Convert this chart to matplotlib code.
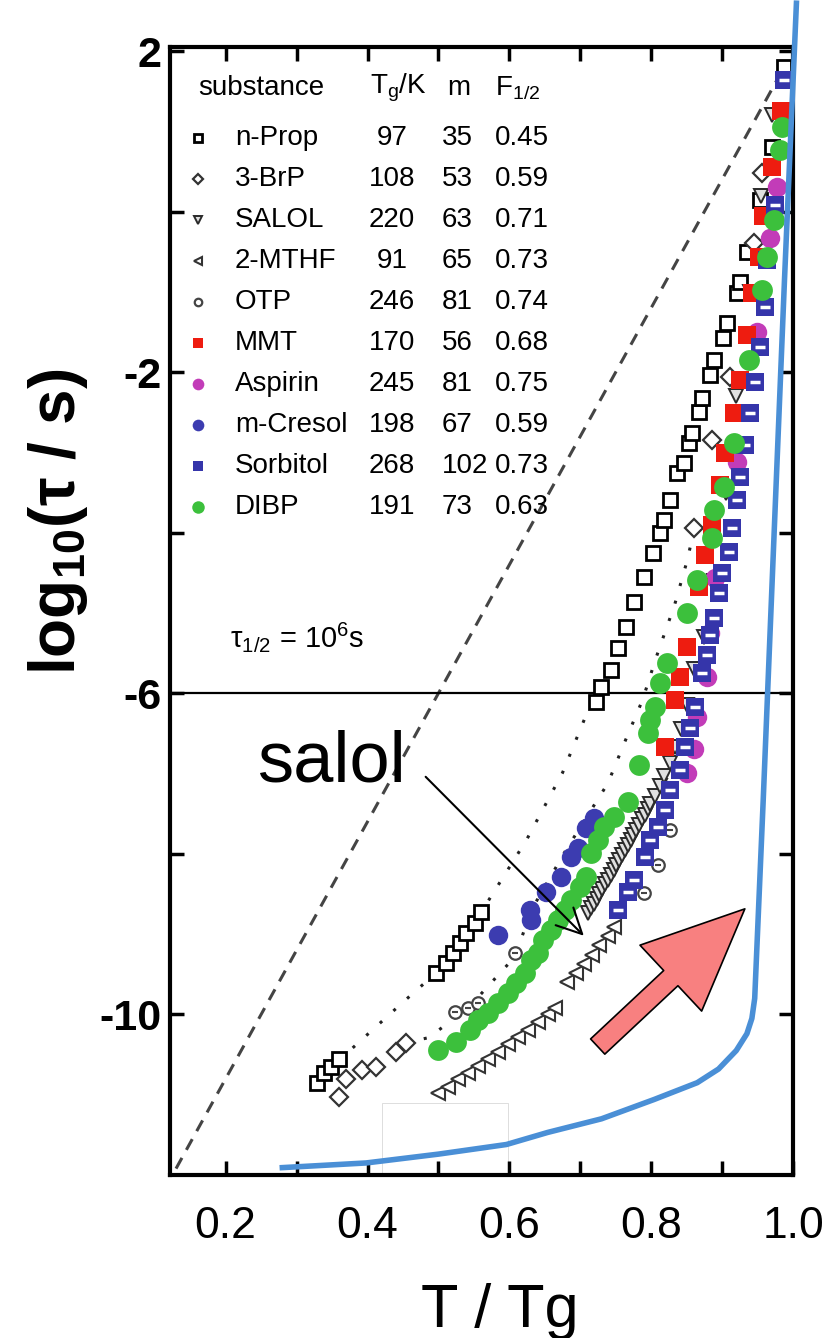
import matplotlib
matplotlib.use('Agg')
import matplotlib.pyplot as plt
from matplotlib.patches import FancyArrowPatch, Rectangle, ArrowStyle
from matplotlib.ticker import FixedLocator, MultipleLocator

plt.rcParams['font.family'] = ['Liberation Sans', 'DejaVu Sans']
plt.rcParams['mathtext.default'] = 'regular'

# ---- data (T/Tg, log10 tau) ----
nprop_x = [0.329, 0.339, 0.349, 0.360,
           0.497, 0.510, 0.521, 0.531, 0.539, 0.552, 0.560,
           0.722, 0.729, 0.743, 0.753, 0.764, 0.776, 0.790, 0.802, 0.813, 0.818,
           0.826, 0.837, 0.847, 0.854, 0.858, 0.868, 0.872, 0.883, 0.889, 0.901,
           0.907, 0.921, 0.925, 0.935, 0.953, 0.970, 0.987]
nprop_y = [-10.85, -10.73, -10.65, -10.56,
           -9.48, -9.36, -9.23, -9.11, -8.98, -8.86, -8.73,
           -6.11, -5.92, -5.71, -5.43, -5.17, -4.86, -4.55, -4.25, -4.00, -3.84,
           -3.59, -3.26, -3.13, -2.88, -2.76, -2.50, -2.32, -2.03, -1.85, -1.57,
           -1.39, -1.01, -0.88, -0.50, 0.14, 0.80, 1.80]

brp_x = [0.360, 0.370, 0.392, 0.412, 0.440, 0.454, 0.861, 0.886, 0.911, 0.945, 0.956]
brp_y = [-11.03, -10.81, -10.69, -10.65, -10.47, -10.35, -3.94, -2.84, -2.06, -0.39, 0.48]

salol_x = [0.711, 0.715, 0.719, 0.723, 0.727, 0.731, 0.735, 0.739, 0.743, 0.747,
           0.751, 0.755, 0.759, 0.763, 0.767, 0.771, 0.775, 0.779, 0.783, 0.787,
           0.791, 0.795, 0.799, 0.805, 0.812, 0.818, 0.826, 0.834, 0.842, 0.850,
           0.860, 0.875, 0.889, 0.905, 0.920, 0.940, 0.955, 0.970]
salol_y = [-8.74, -8.68, -8.62, -8.56, -8.50, -8.44, -8.38, -8.32, -8.26, -8.20,
           -8.14, -8.08, -8.02, -7.95, -7.89, -7.83, -7.77, -7.70, -7.64, -7.57,
           -7.51, -7.44, -7.38, -7.28, -7.15, -7.03, -6.87, -6.67, -6.45, -6.15,
           -5.70, -5.30, -4.60, -3.50, -2.30, -1.00, 0.20, 1.20]

mthf_x = [0.500, 0.514, 0.528, 0.542, 0.556, 0.570, 0.584, 0.598, 0.612, 0.626,
          0.640, 0.654, 0.664, 0.682, 0.694, 0.705, 0.716, 0.727, 0.739, 0.748]
mthf_y = [-10.98, -10.90, -10.81, -10.73, -10.64, -10.55, -10.47, -10.37, -10.28, -10.19,
          -10.09, -9.99, -9.92, -9.59, -9.48, -9.37, -9.26, -9.13, -9.02, -8.91]

otp_x = [0.524, 0.542, 0.556, 0.608, 0.790, 0.809, 0.827]
otp_y = [-9.97, -9.92, -9.86, -9.23, -8.49, -8.14, -7.70]

mmt_x = [0.819, 0.834, 0.841, 0.851, 0.868, 0.876, 0.886, 0.897, 0.904, 0.917,
         0.925, 0.935, 0.942, 0.952, 0.958, 0.970, 0.983]
mmt_y = [-6.67, -6.08, -5.80, -5.42, -4.67, -4.28, -3.90, -3.40, -3.01, -2.51,
         -2.10, -1.54, -1.01, -0.57, -0.05, 0.55, 1.25]

aspirin_x = [0.851, 0.861, 0.865, 0.879, 0.883, 0.890, 0.921, 0.949, 0.967, 0.977]
aspirin_y = [-6.99, -6.70, -6.29, -5.80, -5.25, -4.56, -3.12, -1.50, -0.33, 0.31]

cresol_x = [0.584, 0.629, 0.631, 0.652, 0.673, 0.687, 0.697, 0.708, 0.720]
cresol_y = [-9.01, -8.70, -8.82, -8.47, -8.29, -8.04, -7.93, -7.68, -7.55]

sorb_x = [0.753, 0.767, 0.776, 0.791, 0.799, 0.809, 0.819, 0.827, 0.841, 0.848,
          0.855, 0.862, 0.872, 0.879, 0.883, 0.889, 0.896, 0.900, 0.910, 0.914,
          0.921, 0.925, 0.932, 0.939, 0.946, 0.953, 0.960, 0.963, 0.974, 0.987]
sorb_y = [-8.70, -8.47, -8.32, -8.04, -7.83, -7.66, -7.45, -7.20, -6.95, -6.67,
          -6.43, -6.17, -5.75, -5.52, -5.27, -5.06, -4.75, -4.50, -4.24, -3.94,
          -3.59, -3.31, -2.91, -2.51, -2.12, -1.69, -1.19, -0.60, 0.08, 1.64]

dibp_x = [0.500, 0.525, 0.545, 0.556, 0.570, 0.584, 0.598, 0.610, 0.622, 0.631,
          0.641, 0.647, 0.659, 0.669, 0.678, 0.687, 0.699, 0.708, 0.715, 0.725,
          0.734, 0.748, 0.767, 0.783, 0.795, 0.799, 0.805, 0.813, 0.823, 0.851,
          0.865, 0.886, 0.889, 0.903, 0.917, 0.938, 0.956, 0.963, 0.973, 0.981, 0.984]
dibp_y = [-10.44, -10.34, -10.19, -10.07, -9.98, -9.86, -9.73, -9.61, -9.48, -9.32,
          -9.23, -9.07, -8.95, -8.83, -8.70, -8.58, -8.41, -8.29, -7.99, -7.83,
          -7.66, -7.54, -7.36, -6.89, -6.49, -6.33, -6.17, -5.87, -5.62, -5.00,
          -4.59, -4.06, -3.72, -3.43, -2.88, -1.85, -0.98, -0.57, -0.10, 0.77, 1.05]

# guide lines
guide1_x = [0.360, 0.451, 0.497, 0.560, 0.624, 0.675, 0.713, 0.722]
guide1_y = [-10.57, -9.84, -9.48, -8.73, -7.83, -6.99, -6.17, -6.11]
guide2_x = [0.454, 0.486, 0.542, 0.608, 0.631, 0.680, 0.739, 0.764, 0.788, 0.806, 0.833, 0.851, 0.861]
guide2_y = [-10.35, -10.29, -9.92, -9.28, -8.70, -7.95, -7.12, -6.58, -6.08, -5.58, -4.90, -4.34, -3.94]
dash_x = [0.13, 0.985]
dash_y = [-11.92, 1.76]
blue_x = [0.276, 0.398, 0.500, 0.596, 0.654, 0.730, 0.804, 0.865, 0.895, 0.920, 0.935, 0.942,
          0.946, 0.958, 0.973, 0.988, 1.005]
blue_y = [-11.91, -11.85, -11.74, -11.62, -11.47, -11.30, -11.06, -10.85, -10.68, -10.45, -10.24, -10.05,
          -9.80, -7.33, -4.09, -0.85, 2.63]

# legend table
names = ['n-Prop', '3-BrP', 'SALOL', '2-MTHF', 'OTP', 'MMT', 'Aspirin', 'm-Cresol', 'Sorbitol', 'DIBP']
tg_vals = [97, 108, 220, 91, 246, 170, 245, 198, 268, 191]
m_vals = [35, 53, 63, 65, 81, 56, 81, 67, 102, 73]
f_vals = ['0.45', '0.59', '0.71', '0.73', '0.74', '0.68', '0.75', '0.59', '0.73', '0.63']

fig = plt.figure(figsize=(8.4, 13.38), dpi=100)
ax = fig.add_axes([170 / 840, 1 - 1175 / 1338, 623 / 840, 1128 / 1338])
ax.set_xlim(0.1215, 1.0)
ax.set_ylim(-12, 2.05)

ax.add_patch(Rectangle((0.42, -12), 0.178, 0.9, fill=False, ec='#d8d8d8', lw=0.6, zorder=1))
ax.plot(dash_x, dash_y, ls=(0, (4, 3)), color='#444444', lw=2.2, zorder=2)
ax.axhline(-6, color='k', lw=1.6, zorder=2)
ax.plot(guide1_x, guide1_y, ls=(0, (1, 5)), color='#222222', lw=2.2, zorder=2)
ax.plot(guide2_x, guide2_y, ls=(0, (1, 5)), color='#222222', lw=2.2, zorder=2)

styles = {
    'n-Prop': dict(marker='s', mfc='white', mec='k', mew=2.0, ms=10),
    '3-BrP': dict(marker='D', mfc='white', mec='#333333', mew=1.6, ms=9),
    'SALOL': dict(marker='v', mfc='#e0e0e0', mec='#2a2a2a', mew=1.4, ms=10),
    '2-MTHF': dict(marker='<', mfc='white', mec='#333333', mew=1.5, ms=10),
    'OTP': dict(marker='o', mfc='white', mec='#444444', mew=1.6, ms=9),
    'MMT': dict(marker='s', mfc='#ee1c10', mec='#ee1c10', mew=0, ms=13),
    'Aspirin': dict(marker='o', mfc='#c23cb8', mec='#c23cb8', mew=0, ms=14),
    'm-Cresol': dict(marker='o', mfc='#3c3cb0', mec='#3c3cb0', mew=0, ms=14),
    'Sorbitol': dict(marker='s', mfc='#3535aa', mec='#3535aa', mew=0, ms=13),
    'DIBP': dict(marker='o', mfc='#3cc03c', mec='#3cc03c', mew=0, ms=15),
}
series = [('2-MTHF', mthf_x, mthf_y), ('n-Prop', nprop_x, nprop_y), ('3-BrP', brp_x, brp_y),
          ('SALOL', salol_x, salol_y), ('OTP', otp_x, otp_y), ('Aspirin', aspirin_x, aspirin_y),
          ('MMT', mmt_x, mmt_y), ('Sorbitol', sorb_x, sorb_y), ('m-Cresol', cresol_x, cresol_y),
          ('DIBP', dibp_x, dibp_y)]
for z, (name, xs, ys) in enumerate(series):
    ax.plot(xs, ys, ls='none', zorder=3 + z, **styles[name])
    if name == 'Sorbitol':
        ax.plot(xs, ys, ls='none', marker='_', ms=7, mew=2.5, color='white', zorder=3 + z)
    if name == 'OTP':
        ax.plot(xs, ys, ls='none', marker='_', ms=5, mew=1.5, color='#444444', zorder=3 + z)

ax.plot(blue_x, blue_y, color='#4a8fd6', lw=4, zorder=20, clip_on=False,
        solid_capstyle='butt', solid_joinstyle='round')

# big pink arrow
big = FancyArrowPatch((0.7246, -10.40), (0.9321, -8.685),
                      arrowstyle=ArrowStyle.Simple(head_length=73, head_width=65, tail_width=15),
                      mutation_scale=1, fc='#f88080', ec='k', lw=1.2, shrinkA=0, shrinkB=0, zorder=21)
ax.add_patch(big)

ax.text(0.2435, -7.10, 'salol', fontsize=52, ha='left', va='baseline', zorder=22)
ax.annotate('', xy=(0.705, -9.02), xytext=(0.482, -7.04),
            arrowprops=dict(arrowstyle='->,head_length=0.9,head_width=0.45', lw=1.5, color='k',
                            shrinkA=0, shrinkB=0, mutation_scale=20), zorder=22)

# table inside the plot
tfs = 20
def ty(py):
    return 1 - (py - 47) / 1128
def tx(px):
    return (px - 170) / 623
ax.text(tx(198), ty(88), 'substance', fontsize=tfs, transform=ax.transAxes, va='center', ha='left')
ax.text(tx(370), ty(88), r'T$_g$/K', fontsize=tfs, transform=ax.transAxes, va='center', ha='left')
ax.text(tx(447), ty(88), 'm', fontsize=tfs, transform=ax.transAxes, va='center', ha='left')
ax.text(tx(495), ty(88), r'F$_{1/2}$', fontsize=tfs, transform=ax.transAxes, va='center', ha='left')
for i, name in enumerate(names):
    yy = ty(138 + 41 * i)
    st = dict(styles[name])
    st['ms'] = st['ms'] * 0.6
    ax.plot([tx(198)], [yy], transform=ax.transAxes, ls='none', clip_on=False, zorder=30, **st)
    ax.text(tx(235), yy, name, fontsize=tfs, transform=ax.transAxes, va='center', ha='left')
    ax.text(tx(392), yy, str(tg_vals[i]), fontsize=tfs, transform=ax.transAxes, va='center', ha='center')
    ax.text(tx(442), yy, str(m_vals[i]), fontsize=tfs, transform=ax.transAxes, va='center', ha='left')
    ax.text(tx(495), yy, f_vals[i], fontsize=tfs, transform=ax.transAxes, va='center', ha='left')
ax.text(tx(230), ty(637), r'$\tau_{1/2}$ = 10$^6$s', fontsize=21, transform=ax.transAxes,
        va='center', ha='left')

# axes styling
for sp in ax.spines.values():
    sp.set_linewidth(3)
ax.xaxis.set_major_locator(FixedLocator([0.2, 0.4, 0.6, 0.8, 1.0]))
ax.xaxis.set_minor_locator(MultipleLocator(0.1))
ax.yaxis.set_major_locator(FixedLocator([2, -2, -6, -10]))
ax.yaxis.set_minor_locator(FixedLocator([0, -4, -8]))
ax.set_xticklabels(['0.2', '0.4', '0.6', '0.8', '1.0'])
ax.set_yticklabels(['2', '-2', '-6', '-10'])
ax.tick_params(which='both', direction='in', top=True, right=True, width=2.5, length=10)
ax.tick_params(axis='x', labelsize=32, pad=22)
ax.tick_params(axis='y', labelsize=31, pad=6)
for lab in ax.get_yticklabels():
    lab.set_fontweight('bold')

fig.text(500 / 840, 1 - 1327 / 1338, 'T / Tg', fontsize=44, ha='center', va='baseline')
fig.text(58 / 840, 1 - 522 / 1338, r'log$_{10}$(τ / s)', fontsize=46, fontweight='bold',
         rotation=90, ha='center', va='center')

fig.savefig('out.png', dpi=100)
